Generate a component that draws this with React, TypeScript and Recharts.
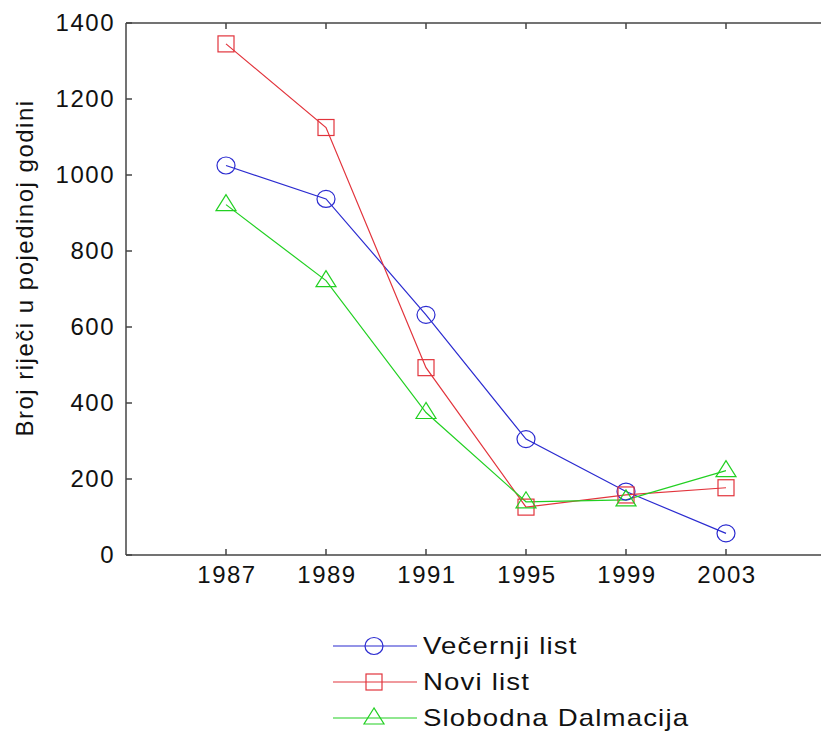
import { LineChart, Line, XAxis, YAxis, Legend } from 'recharts';

const years = ['1987', '1989', '1991', '1995', '1999', '2003'];
const vecernjiList = [1025, 937, 632, 305, 167, 57];
const noviList = [1345, 1125, 493, 126, 158, 177];
const slobodnaDalmacija = [922, 722, 375, 140, 145, 222];
const yTicks = [0, 200, 400, 600, 800, 1000, 1200, 1400];

const series = [
  { key: 'vecernji', name: 'Večernji list', color: '#2b2bd0', shape: 'circle' },
  { key: 'novi', name: 'Novi list', color: '#e2343c', shape: 'square' },
  { key: 'slobodna', name: 'Slobodna Dalmacija', color: '#22d022', shape: 'triangle' },
];

const data = years.map((y, i) => ({
  x: i + 1,
  vecernji: vecernjiList[i],
  novi: noviList[i],
  slobodna: slobodnaDalmacija[i],
}));

const FONT = '"Liberation Sans", Arial, sans-serif';
const AXIS = '#444';

const Marker = ({ cx, cy, shape, color }: { cx: number; cy: number; shape: string; color: string }) => {
  if (cx == null || cy == null) return null;
  if (shape === 'circle') {
    return <ellipse cx={cx} cy={cy} rx={9} ry={8.5} fill="none" stroke={color} strokeWidth={1.2} />;
  }
  if (shape === 'square') {
    return <rect x={cx - 8} y={cy - 8} width={16} height={16} fill="none" stroke={color} strokeWidth={1.2} />;
  }
  return (
    <polygon
      points={`${cx},${cy - 10} ${cx - 10},${cy + 6} ${cx + 10},${cy + 6}`}
      fill="none"
      stroke={color}
      strokeWidth={1.2}
    />
  );
};

const BottomTick = ({ x, y, payload }: any) => (
  <g>
    <line x1={x} y1={y} x2={x} y2={y - 6} stroke={AXIS} strokeWidth={1.5} />
    <text x={x + 1} y={y + 28} textAnchor="middle" fontSize={24} fontFamily={FONT} fill="#111" letterSpacing={1.5}>
      {years[payload.value - 1]}
    </text>
  </g>
);

const TopTick = ({ x, y }: any) => (
  <line x1={x} y1={y} x2={x} y2={y + 6} stroke={AXIS} strokeWidth={1.5} />
);

const LeftTick = ({ x, y, payload }: any) => (
  <g>
    <line x1={x} y1={y} x2={x + 6} y2={y} stroke={AXIS} strokeWidth={1.5} />
    <text x={x - 11} y={y + 8} textAnchor="end" fontSize={24} fontFamily={FONT} fill="#111" letterSpacing={1.5}>
      {payload.value}
    </text>
  </g>
);

const RightTick = ({ x, y }: any) => (
  <line x1={x} y1={y} x2={x - 6} y2={y} stroke={AXIS} strokeWidth={1.5} />
);

const YLabel = ({ viewBox }: any) => {
  const cx = viewBox.x + viewBox.width - 102;
  const cy = viewBox.y + viewBox.height / 2 - 21;
  return (
    <text
      x={cx}
      y={cy}
      transform={`rotate(-90, ${cx}, ${cy})`}
      textAnchor="middle"
      dominantBaseline="central"
      fontSize={24}
      fontFamily={FONT}
      fill="#111"
      letterSpacing={1.5}
    >
      Broj riječi u pojedinoj godini
    </text>
  );
};

const LegendContent = () => (
  <div style={{ fontFamily: FONT }}>
    {series.map((s) => (
      <div key={s.key} style={{ display: 'flex', alignItems: 'center', height: 36 }}>
        <svg width={90} height={30}>
          <line x1={2} y1={15} x2={86} y2={15} stroke={s.color} strokeWidth={1.2} />
          <Marker cx={43} cy={15} shape={s.shape} color={s.color} />
        </svg>
        <span
          style={{
            fontSize: 24,
            color: '#111',
            marginLeft: 2,
            letterSpacing: 1,
            display: 'inline-block',
            whiteSpace: 'nowrap',
            transform: 'scaleX(1.15)',
            transformOrigin: 'left center',
          }}
        >
          {s.name}
        </span>
      </div>
    ))}
  </div>
);

export default function App() {
  return (
    <div style={{ position: 'absolute', left: 0, top: 0, width: 821, height: 731, overflow: 'hidden', background: '#fff' }}>
      <LineChart width={830} height={731} data={data} margin={{ top: 22, right: 3, bottom: 175, left: 125 }}>
        <XAxis
          dataKey="x"
          type="number"
          domain={[0, 7]}
          ticks={[1, 2, 3, 4, 5, 6]}
          height={1}
          tickSize={0}
          tickMargin={0}
          tickLine={false}
          tick={<BottomTick />}
          axisLine={{ stroke: AXIS, strokeWidth: 1.5 }}
        />
        <XAxis
          xAxisId="top"
          dataKey="x"
          type="number"
          orientation="top"
          domain={[0, 7]}
          ticks={[1, 2, 3, 4, 5, 6]}
          height={1}
          tickSize={0}
          tickMargin={0}
          tickLine={false}
          tick={<TopTick />}
          axisLine={{ stroke: AXIS, strokeWidth: 1.5 }}
        />
        <YAxis
          domain={[0, 1400]}
          ticks={yTicks}
          width={1}
          tickSize={0}
          tickMargin={0}
          tickLine={false}
          tick={<LeftTick />}
          axisLine={{ stroke: AXIS, strokeWidth: 1.5 }}
          label={<YLabel />}
        />
        <YAxis
          yAxisId="right"
          orientation="right"
          domain={[0, 1400]}
          ticks={yTicks}
          width={1}
          tickSize={0}
          tickMargin={0}
          tickLine={false}
          tick={<RightTick />}
          axisLine={{ stroke: AXIS, strokeWidth: 1.5 }}
        />
        {series.map((s) => (
          <Line
            key={s.key}
            dataKey={s.key}
            name={s.name}
            stroke={s.color}
            strokeWidth={1.2}
            isAnimationActive={false}
            dot={(p: any) => <Marker key={`${s.key}-${p.index}`} cx={p.cx} cy={p.cy} shape={s.shape} color={s.color} />}
            activeDot={false}
          />
        ))}
        <Legend
          layout="vertical"
          align="center"
          verticalAlign="middle"
          content={<LegendContent />}
          wrapperStyle={{ top: 628, left: 331, width: 480 }}
        />
      </LineChart>
    </div>
  );
}
